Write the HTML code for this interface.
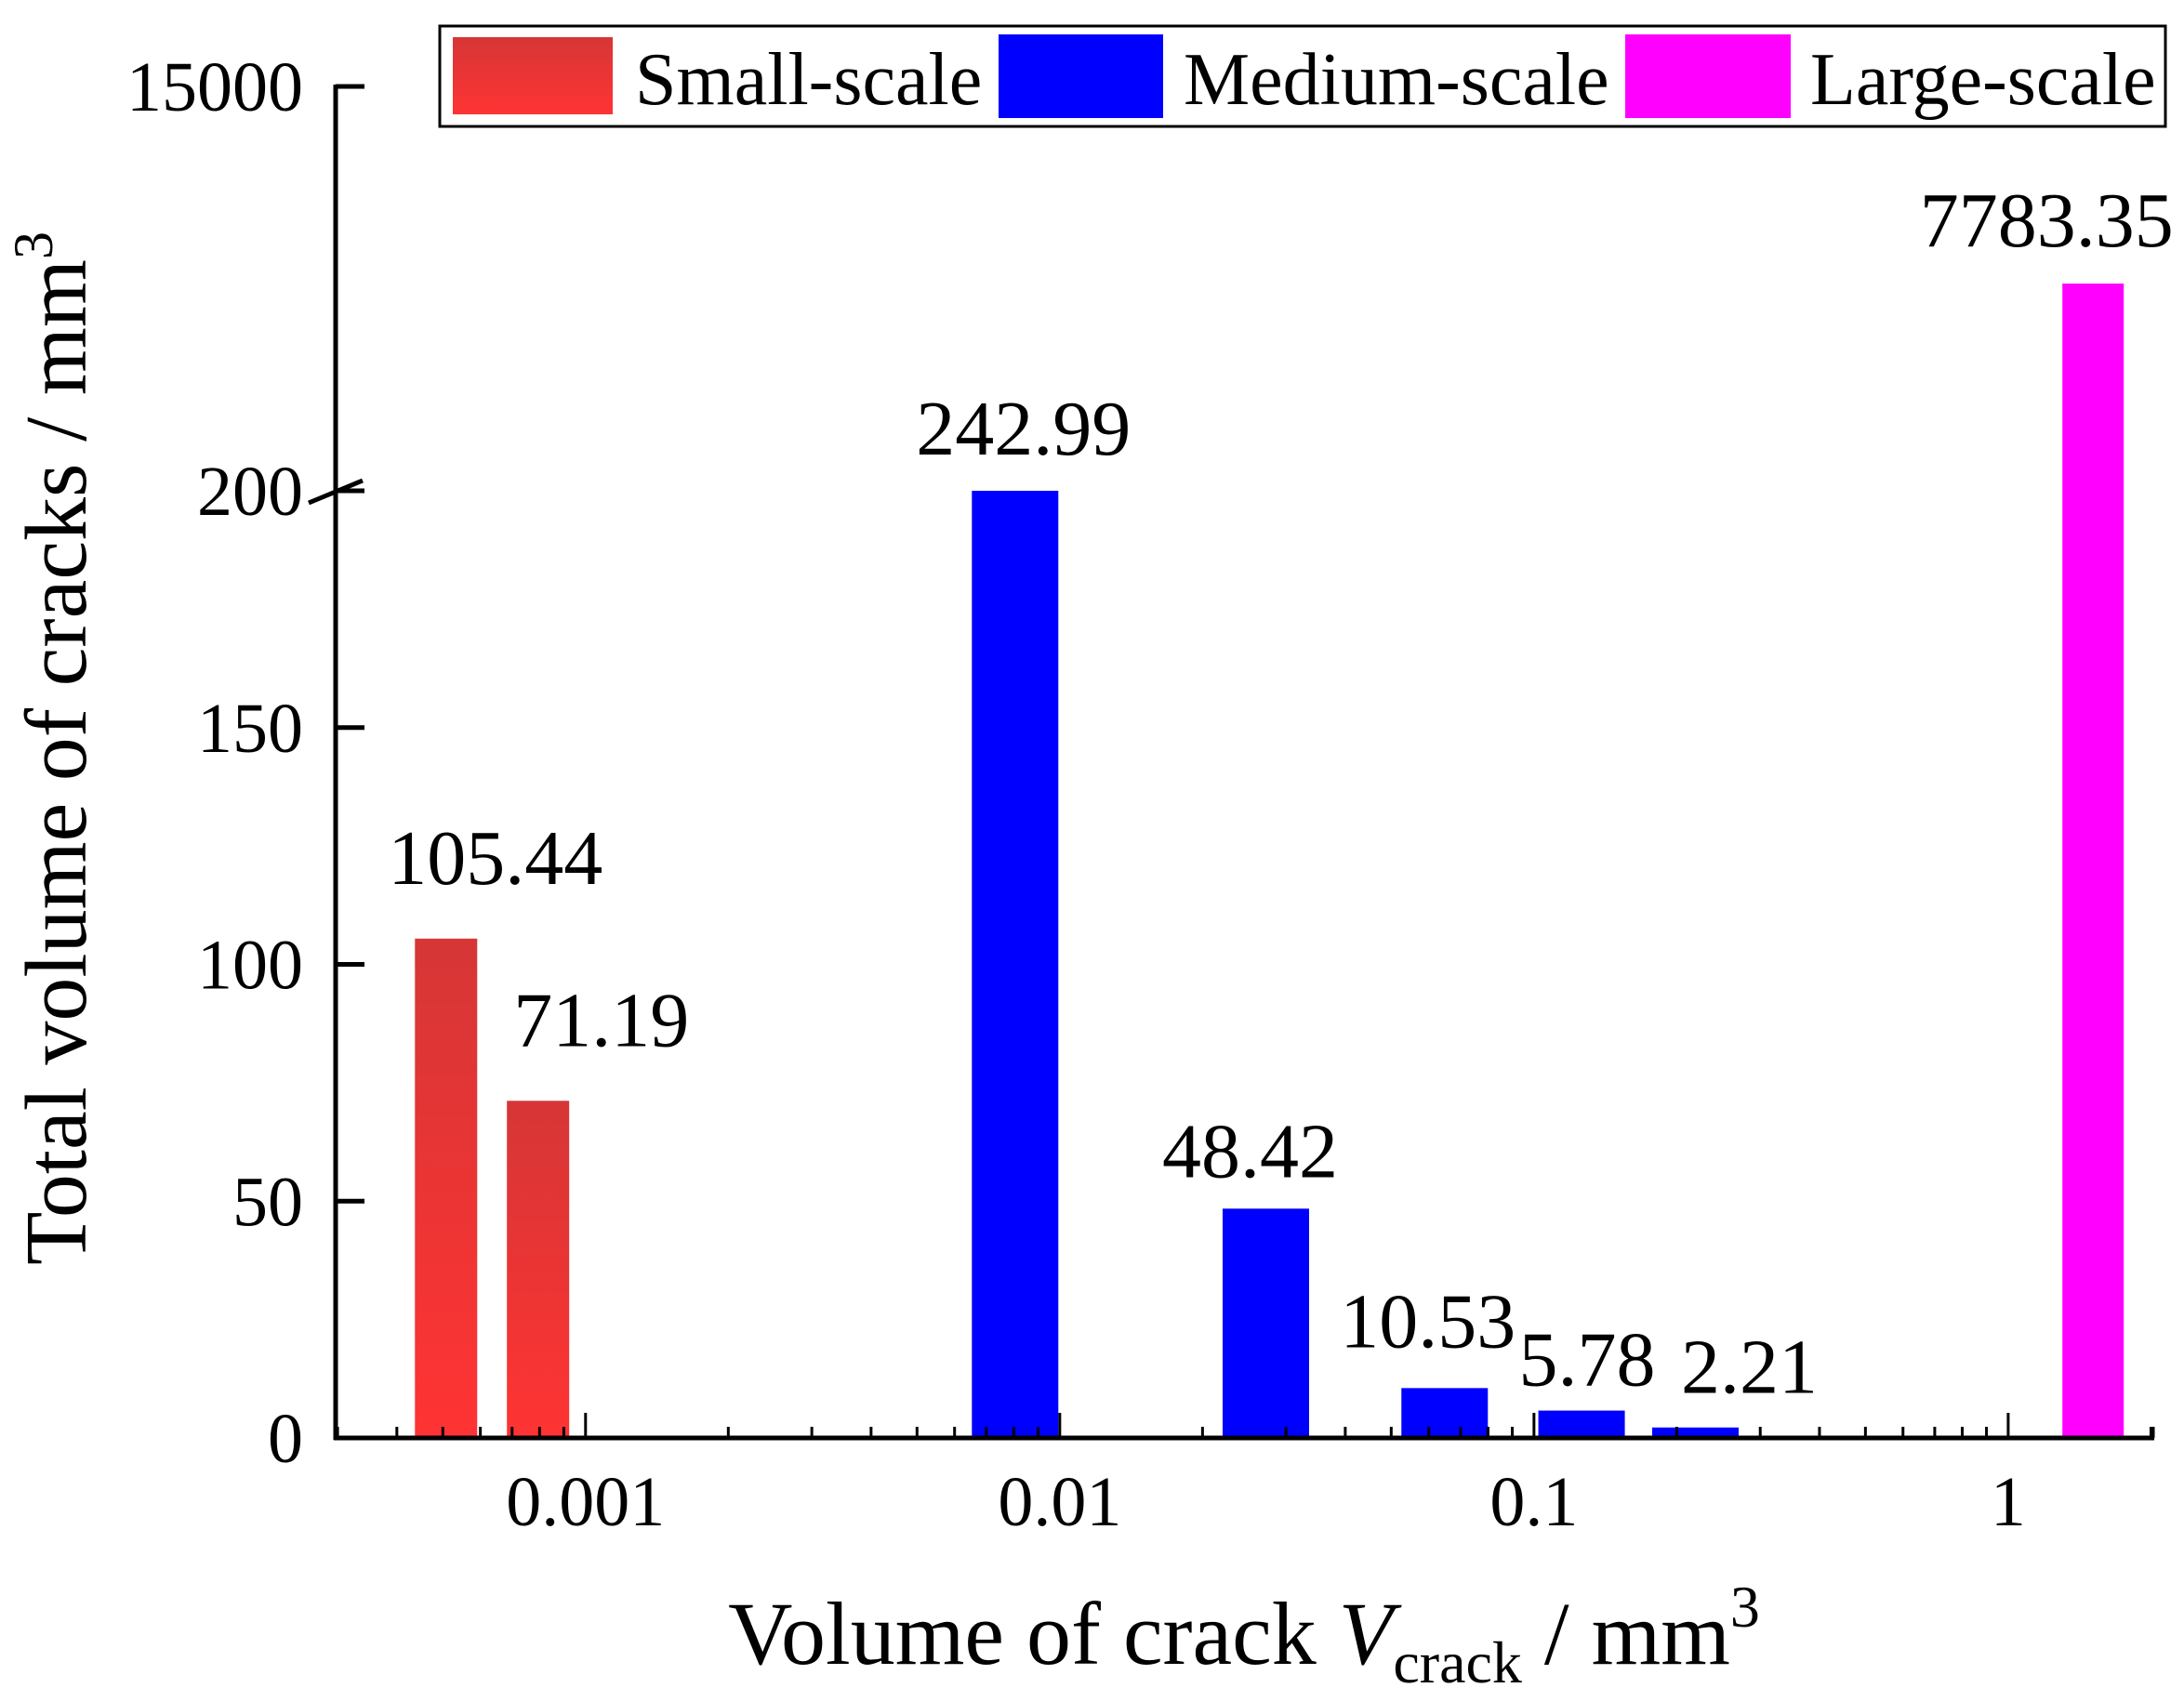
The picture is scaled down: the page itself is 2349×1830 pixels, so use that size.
<!DOCTYPE html>
<html><head><meta charset="utf-8">
<style>
html,body{margin:0;padding:0;background:#fff;}
svg{display:block;font-family:"Liberation Serif",serif;}
</style></head>
<body>
<svg id="chart" width="2349" height="1830" viewBox="0 0 2349 1830" xmlns="http://www.w3.org/2000/svg">
<defs>
<linearGradient id="redGrad" x1="0" y1="0" x2="0" y2="1">
<stop offset="0" stop-color="#d63636"/><stop offset="1" stop-color="#ff3333"/>
</linearGradient>
</defs>
<g id="legend">
<rect x="473" y="28" width="1856" height="108" fill="#fff" stroke="#000" stroke-width="3"/>
<rect x="487" y="40" width="172" height="83" fill="url(#redGrad)"/>
<text x="683" y="112" font-size="80">Small-scale</text>
<rect x="1074" y="37" width="177" height="90" fill="#0000ff"/>
<text x="1273" y="112" font-size="80">Medium-scale</text>
<rect x="1748" y="37" width="178" height="90" fill="#ff00ff"/>
<text x="1947" y="112" font-size="80">Large-scale</text>
</g>
<text transform="translate(92,805) rotate(-90)" text-anchor="middle" font-size="94">Total volume of cracks / mm<tspan dy="-36" font-size="60">3</tspan></text>
<text x="1338" y="1790" text-anchor="middle" font-size="96">Volume of crack <tspan font-style="italic">V</tspan><tspan dy="20" font-size="64">crack</tspan><tspan dy="-20"> / mm</tspan><tspan dy="-40" font-size="64">3</tspan></text>
</svg>
<script>
const categories = ["S1","S2","M1","M2","M3","M4","M5","L1"];
const xCenters = [0.000508, 0.000794, 0.00805, 0.0272, 0.0648, 0.126, 0.219, 1.51];
const values = [105.44, 71.19, 242.99, 48.42, 10.53, 5.78, 2.21, 7783.35];
const valueLabels = ["105.44","71.19","242.99","48.42","10.53","5.78","2.21","7783.35"];
const groups = ["small","small","medium","medium","medium","medium","medium","large"];
const yTicksLow = [0, 50, 100, 150, 200];
const yTicksHigh = [15000];
const xMajorTicks = [0.001, 0.01, 0.1, 1];
const xTickLabels = ["0.001","0.01","0.1","1"];

const svg = document.getElementById('chart');
const NS = 'http://www.w3.org/2000/svg';
const axX = 361, axY = 1547, axR = 2317;
const logMin = -3.527, logMax = 0.308;
function xScale(v){ return axX + (Math.log10(v) - logMin) / (logMax - logMin) * (axR - axX); }
function yScale(v){
  if (v <= 200) return axY - v / 200 * (axY - 528);
  return 528 - (v - 200) / (15000 - 200) * (528 - 93);
}
const fills = {small:'url(#redGrad)', medium:'#0000ff', large:'#ff00ff'};
const widths = {small:67, medium:93, large:66};
const lblDx = [53, 68, 9, -17, -18, 6, 58, -50];
const lblGap = [59, 59, 39, 34, 44, 27, 37, 40];
function mk(tag, attrs){ const e = document.createElementNS(NS, tag); for (const k in attrs) e.setAttribute(k, attrs[k]); svg.appendChild(e); return e; }

categories.forEach((c, i) => {
  const cx = xScale(xCenters[i]);
  const w = widths[groups[i]];
  const top = yScale(Math.min(values[i], values[i] > 200 && values[i] < 1000 ? 200 : values[i]));
  const r = mk('rect', {x: cx - w/2, y: top, width: w, height: axY - top, fill: fills[groups[i]]});
  
  
  const t = mk('text', {x: cx + lblDx[i], y: top - lblGap[i], 'text-anchor': 'middle', 'font-size': 84});
  t.textContent = valueLabels[i];
  
  
});

const ya = mk('line', {x1: axX, y1: 91, x2: axX, y2: axY + 2, stroke: '#000', 'stroke-width': 5});


const xa = mk('line', {x1: axX - 2, y1: axY, x2: axR, y2: axY, stroke: '#000', 'stroke-width': 5});


const brk = mk('line', {x1: 332, y1: 541, x2: 390, y2: 517, stroke: '#000', 'stroke-width': 5});



yTicksLow.concat(yTicksHigh).forEach(v => {
  const y = yScale(v);
  const l = mk('line', {x1: axX, y1: y, x2: axX + 31, y2: y, stroke: '#000', 'stroke-width': 5});
  
  
  const t = mk('text', {x: 326, y: y + 26, 'text-anchor': 'end', 'font-size': 76});
  t.textContent = String(v);
  
  
});

xMajorTicks.forEach((v, i) => {
  const x = xScale(v);
  const l = mk('line', {x1: x, y1: axY, x2: x, y2: axY - 27, stroke: '#000', 'stroke-width': 3});
  
  
  const t = mk('text', {x: x, y: axY + 94, 'text-anchor': 'middle', 'font-size': 76});
  t.textContent = xTickLabels[i];
  
  
});
for (let d = -4; d <= 0; d++) {
  for (let m = 2; m <= 9; m++) {
    const v = m * Math.pow(10, d);
    const lv = Math.log10(v);
    if (lv < logMin || lv > logMax) continue;
    const x = xScale(v);
    const l = mk('line', {x1: x, y1: axY, x2: x, y2: axY - 12, stroke: '#000', 'stroke-width': 3});
    
    
  }
}
const rt = mk('line', {x1: axR - 1, y1: axY, x2: axR - 1, y2: axY - 12, stroke: '#000', 'stroke-width': 3});


</script>
</body></html>
